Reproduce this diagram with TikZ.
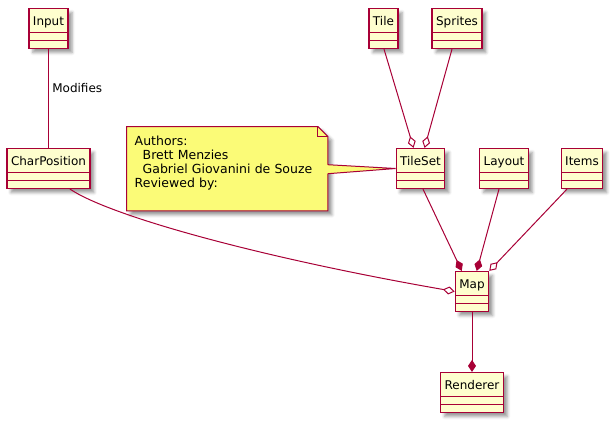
\documentclass[tikz,border=0pt]{standalone}
\usepackage{fontspec}
\setmainfont{DejaVu Sans}
\usetikzlibrary{arrows.meta,positioning,shadows.blur,backgrounds}
\definecolor{umlred}{RGB}{168,0,54}
\definecolor{classfill}{RGB}{254,254,206}
\definecolor{notefill}{RGB}{251,251,119}

\begin{document}
\begin{tikzpicture}[x=1pt, y=-1pt,
    umlshadow/.style={blur shadow={shadow xshift=4pt, shadow yshift=-4pt, shadow blur radius=3pt, shadow opacity=40}},
    class/.style={rectangle, draw=umlred, fill=classfill, line width=1.2pt, umlshadow,
        inner xsep=4pt, inner ysep=0pt, text height=17pt, text depth=23pt,
        font=\fontsize{12}{14}\selectfont,
        path picture={\draw[umlred, line width=1pt]
            ([yshift=-24pt]path picture bounding box.north west) -- ([yshift=-24pt]path picture bounding box.north east)
            ([yshift=-32pt]path picture bounding box.north west) -- ([yshift=-32pt]path picture bounding box.north east);}},
    note/.style={inner xsep=8pt, inner ysep=8.8pt, text width=185pt, align=left,
        minimum width=201pt, minimum height=84pt, font=\fontsize{12.5}{14.2}\selectfont},
    notebox/.style={draw=umlred, fill=notefill, line width=1pt, umlshadow},
    edge/.style={draw=umlred, line width=1pt},
    agg/.style={edge, -{Diamond[fill=white, length=12pt, width=8pt]}},
    comp/.style={edge, -{Diamond[length=12pt, width=8pt]}}]

\useasboundingbox (0,0) rectangle (613,423);

% classes
\node [class] (input) at (48.5,28.5) {Input};
\node [class] (charpos) at (48.5,168.5) {CharPosition};
\node [class] (tile) at (383.5,28.5) {Tile};
\node [class] (sprites) at (457,28.5) {Sprites};
\node [class] (tileset) at (420.5,168.5) {TileSet};
\node [class] (layout) at (504,168.5) {Layout};
\node [class] (items) at (582,168.5) {Items};
\node [class] (map) at (472,291.5) {Map};
\node [class] (renderer) at (472,392.5) {Renderer};

% note
\node [note, anchor=north west] (note) at (126.5,126.5) {Authors:\\\hspace*{8pt}Brett Menzies\\\hspace*{8pt}Gabriel Giovanini de Souze\\Reviewed by:\\\mbox{}};
\begin{scope}[on background layer]
\draw [notebox] (note.north west) -- ([xshift=-10pt]note.north east) -- ([yshift=-10pt]note.north east) -- (note.south east) -- (note.south west) -- cycle;
\draw [edge] ([xshift=-10pt]note.north east) |- ([yshift=-10pt]note.north east);
\end{scope}
\fill [notefill] ([xshift=-1.5pt, yshift=4pt]note.east) -- (tileset.west) -- ([xshift=-1.5pt, yshift=-5pt]note.east) -- cycle;
\draw [edge] ([yshift=4pt]note.east) -- (tileset.west) -- ([yshift=-5pt]note.east);

% relations
\draw [edge] (input) -- node[right, pos=0.39, font=\fontsize{12}{14}\selectfont] {Modifies} (charpos);
\draw [agg] ([xshift=0.5pt]tile.south) -- ([xshift=18pt]tileset.north west);
\draw [agg] ([xshift=-5pt]sprites.south) -- ([xshift=29pt]tileset.north west);
\draw [comp] ([xshift=2.5pt]tileset.south) -- ([xshift=7pt]map.north west);
\draw [comp] ([xshift=-5pt]layout.south) -- ([xshift=22pt]map.north west);
\draw [agg] ([xshift=-15pt]items.south) -- (map.north east);
\draw [agg] ([xshift=21.5pt]charpos.south) .. controls +(40,27) and +(-195,-34) .. (map.west);
\draw [comp] (map) -- (renderer);

\end{tikzpicture}
\end{document}
